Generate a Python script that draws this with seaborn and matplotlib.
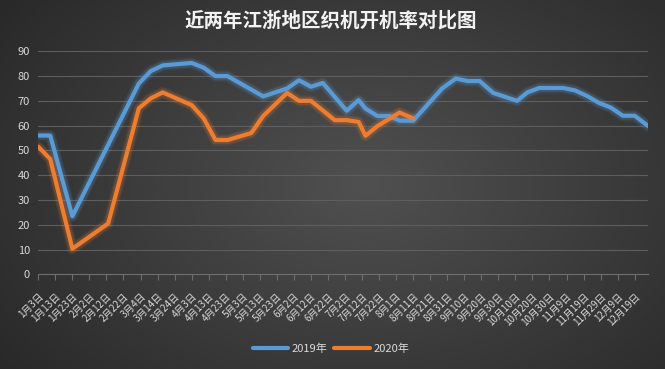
import numpy as np
import pandas as pd
import matplotlib
matplotlib.use("Agg")
import matplotlib.pyplot as plt
import seaborn as sns

# ---- data ----
dates_2019 = ["01-03", "01-10", "01-23", "03-03", "03-10", "03-17", "04-03", "04-10",
              "04-17", "04-24", "05-15", "05-29", "06-05", "06-12", "06-19", "07-03",
              "07-10", "07-14", "07-21", "07-28", "08-03", "08-11", "08-28", "09-05",
              "09-12", "09-19", "09-27", "10-04", "10-11", "10-17", "10-24", "10-31",
              "11-07", "11-14", "11-21", "11-28", "12-05", "12-12", "12-19", "12-27"]
values_2019 = [56, 56, 23.4, 77, 82, 84.3, 85.3, 83.4,
               80, 80, 71.8, 75, 78.3, 75.7, 77.2, 66,
               70.3, 66.9, 63.9, 63.9, 62, 62, 75, 79,
               78, 78, 73.2, 71.6, 70, 73.4, 75.2, 75.2,
               75.2, 74.2, 72, 69.2, 67.3, 64, 64, 59.8]

dates_2020 = ["01-03", "01-10", "01-23", "02-13", "03-03", "03-10", "03-17", "04-03",
              "04-10", "04-17", "04-24", "05-08", "05-15", "05-29", "06-05", "06-12",
              "06-26", "07-03", "07-10", "07-14", "07-21", "08-03", "08-11"]
values_2020 = [51.5, 46.5, 10.3, 20.5, 67, 71, 73.4, 68.3,
               63, 54.2, 54.2, 57, 63.9, 73.2, 70, 70,
               62.2, 62.2, 61.5, 55.9, 59.8, 65.3, 62.9]

series_names = ["2019年", "2020年"]
title_text = "近两年江浙地区织机开机率对比图"

# ---- build frames (both years drawn on one common calendar axis) ----
def to_dt(md):
    return pd.to_datetime(["2019-" + s for s in md])

df19 = pd.DataFrame({"date": to_dt(dates_2019), "value": values_2019})
df20 = pd.DataFrame({"date": to_dt(dates_2020), "value": values_2020})

sns.set_theme(style="dark")
plt.rcParams['font.family'] = ['Noto Sans CJK SC', 'DejaVu Sans']

W, H = 665, 369
fig = plt.figure(figsize=(W / 100, H / 100), dpi=100)

# radial dark gradient background
bg = fig.add_axes([0, 0, 1, 1], zorder=-10)
yy, xx = np.mgrid[0:H, 0:W]
r = np.sqrt(((xx - W * 0.55) / (W * 0.62)) ** 2 + ((yy - H * 0.5) / (H * 0.75)) ** 2)
shade = np.clip(0.315 - 0.14 * r, 0.15, 0.315)
bg.imshow(np.dstack([shade, shade, shade]), aspect="auto", extent=[0, 1, 0, 1])
bg.set_axis_off()

ax = fig.add_axes([38.3 / W, 1 - 274.3 / H, (648.3 - 38.3) / W, (274.3 - 51.3) / H])
ax.set_facecolor("none")

blue = "#5b9bd5"
orange = "#ed7d31"

# glow
for df, c in [(df19, blue), (df20, orange)]:
    for lw, a in [(8, 0.10), (6, 0.18)]:
        sns.lineplot(data=df, x="date", y="value", ax=ax, color=c, linewidth=lw,
                     alpha=a, legend=False, solid_joinstyle="round", solid_capstyle="round")

sns.lineplot(data=df19, x="date", y="value", ax=ax, color=blue, linewidth=3,
             label=series_names[0], solid_joinstyle="round")
sns.lineplot(data=df20, x="date", y="value", ax=ax, color=orange, linewidth=3,
             label=series_names[1], solid_joinstyle="round")

# axes
x0 = pd.Timestamp("2019-01-03")
x1 = pd.Timestamp("2019-12-27")
ax.set_xlim(x0, x1)
ax.set_ylim(0, 90)
ax.set_yticks(range(0, 91, 10))
ax.grid(axis="y", color="#5e5e5e", linewidth=0.8)
ax.grid(axis="x", visible=False)

tick_dates = pd.date_range(x0, periods=36, freq="10D")
tick_labels = [f"{d.month}月{d.day}日" for d in tick_dates]
ax.set_xticks(tick_dates)
ax.set_xticklabels(tick_labels, rotation=45, ha="right", va="top",
                   rotation_mode="anchor", fontsize=7, color="#d9d9d9")
ax.tick_params(axis="x", length=4, width=0.8, color="#6e6e6e", pad=8, direction="out",
               bottom=True)
ax.tick_params(axis="y", length=0, pad=6, labelsize=8, labelcolor="#d9d9d9")

for s in ["top", "right", "left"]:
    ax.spines[s].set_visible(False)
ax.spines["bottom"].set_color("#6e6e6e")
ax.spines["bottom"].set_linewidth(0.8)
ax.set_xlabel("")
ax.set_ylabel("")

leg = ax.legend(loc="center", bbox_to_anchor=(331 / W, 1 - 349 / H),
                bbox_transform=fig.transFigure, ncol=2, frameon=False,
                fontsize=8, handlelength=3.2, handletextpad=0.3, columnspacing=0.6)
for t in leg.get_texts():
    t.set_color("#d9d9d9")
for h in leg.get_lines():
    h.set_linewidth(3)

fig.text(331 / W, 1 - 21 / H, title_text, ha="center", va="center",
         fontsize=14, color="#f2f2f2", fontweight="bold")

fig.savefig("out.png", dpi=100)
